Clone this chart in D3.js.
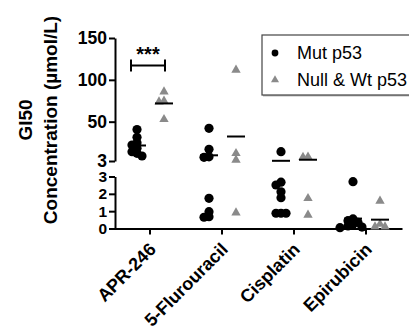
<!DOCTYPE html>
<html>
<head>
<meta charset="utf-8">
<script src="https://cdn.jsdelivr.net/npm/d3@7/dist/d3.min.js"></script>
<style>
  body { margin: 0; background: #fff; }
  text { font-family: "Liberation Sans", Arial, sans-serif; }
  .axis path, .axis line { stroke: #000; stroke-width: 2px; }
  .axis text { font-size: 17.5px; font-weight: bold; fill: #000; }
  .axis.lower text { font-size: 15.5px; }
</style>
</head>
<body>
<div id="chart"></div>
<script>
// drugs on the x axis, two cell-line groups per drug
var drugs = ["APR-246", "5-Flurouracil", "Cisplatin", "Epirubicin"];
var groups = ["Mut p53", "Null & Wt p53"];

// GI50 (umol/L), one array per drug
var mutValues = [
  [40.6, 31.3, 24.9, 22, 18.2, 14.1, 12.2, 9],
  [42, 17, 8, 7.4, 1.74, 0.97, 0.68, 0.65],
  [14.1, 2.67, 2.51, 2.12, 1.78, 0.88, 0.88, 0.88],
  [2.7, 0.55, 0.45, 0.35, 0.25, 0.15, 0.08, 0.05]
];
var nullValues = [
  [85.8, 74.7, 73.9, 52.8],
  [111.8, 12.2, 4.2, 0.91],
  [8, 7.5, 1.74, 0.78],
  [1.59, 0.25, 0.1, 0.1]
];

var upperTicks = [3, 50, 100, 150];
var lowerTicks = [0, 1, 2, 3];
var breakValue = 3;
var sigLabel = "***";
var yTitle = ["GI50", "Concentration (\u00b5mol/L)"];

var svg = d3.select("#chart").append("svg")
    .attr("width", 409)
    .attr("height", 329);

// broken y axis: two linear pieces
var yUpper = d3.scaleLinear().domain([breakValue, 150]).range([161, 38]);
var yLower = d3.scaleLinear().domain([0, breakValue]).range([228.5, 176.5]);
function yv(v) { return v > breakValue ? yUpper(v) : yLower(v); }

var x = d3.scaleBand().domain(drugs).range([114, 402]);
var gx = d3.scalePoint().domain(groups).range([-13, 14]);
var color = d3.scaleOrdinal().domain(groups).range(["#000", "#8a8a8a"]);

// x axis
svg.append("g")
    .attr("class", "axis")
    .attr("transform", "translate(0," + yLower(0) + ")")
    .call(d3.axisBottom(x).tickSize(6).tickSizeOuter(0))
    .selectAll("text")
        .style("text-anchor", "end")
        .style("font-size", "18px")
        .attr("x", 0).attr("y", 0).attr("dy", 0)
        .attr("transform", "translate(7,22) rotate(-45)");

// y axes (upper and lower piece)
svg.append("g")
    .attr("class", "axis upper")
    .attr("transform", "translate(115,0)")
    .call(d3.axisLeft(yUpper).tickValues(upperTicks).tickSize(6).tickSizeOuter(0).tickPadding(2));

svg.append("g")
    .attr("class", "axis lower")
    .attr("transform", "translate(115,0)")
    .call(d3.axisLeft(yLower).tickValues(lowerTicks).tickFormat(d3.format("d"))
        .tickSize(6).tickSizeOuter(0).tickPadding(2));

// y title, two lines
svg.selectAll(".ytitle")
    .data(yTitle)
  .enter().append("text")
    .attr("class", "ytitle")
    .attr("transform", function(d, i) { return "translate(" + (32 + i * 25) + ",120) rotate(-90)"; })
    .style("text-anchor", "middle")
    .style("font-size", "19px")
    .style("font-weight", "bold")
    .text(function(d) { return d; });

// simple swarm so overlapping points spread sideways
function swarm(vals, cx) {
    var placed = [];
    var steps = [0, -5, 5, -9, 9, -13, 13];
    vals.slice().sort(function(a, b) { return b - a; }).forEach(function(v) {
        var y = yv(v);
        for (var k = 0; k < steps.length; k++) {
            var px = cx + steps[k];
            var ok = placed.every(function(p) {
                return Math.hypot(p.x - px, p.y - y) >= 5;
            });
            if (ok || k === steps.length - 1) { placed.push({x: px, y: y, v: v}); break; }
        }
    });
    return placed;
}

var tri = d3.symbol().type(d3.symbolTriangle).size(38);

drugs.forEach(function(drug, i) {
    var sets = [mutValues[i], nullValues[i]];
    sets.forEach(function(vals, g) {
        var grp = groups[g];
        var cx = x(drug) + x.bandwidth() / 2 + gx(grp);
        var pts = swarm(vals, cx);

        if (g === 0) {
            svg.selectAll(null).data(pts).enter().append("circle")
                .attr("cx", function(d) { return d.x; })
                .attr("cy", function(d) { return d.y; })
                .attr("r", 4.6)
                .attr("fill", color(grp));
        } else {
            svg.selectAll(null).data(pts).enter().append("path")
                .attr("d", tri)
                .attr("transform", function(d) { return "translate(" + d.x + "," + d.y + ")"; })
                .attr("fill", color(grp));
        }

        // mean line
        var m = d3.mean(vals);
        svg.append("line")
            .attr("x1", cx - 9).attr("x2", cx + 9)
            .attr("y1", yv(m)).attr("y2", yv(m))
            .attr("stroke", "#000")
            .attr("stroke-width", 2);
    });
});

// significance bracket on APR-246
var bc = x(drugs[0]) + x.bandwidth() / 2 - 2;
var by = yUpper(117);
var br = svg.append("g").attr("stroke", "#000").attr("stroke-width", 2);
br.append("line").attr("x1", bc - 17).attr("x2", bc + 17).attr("y1", by).attr("y2", by);
br.append("line").attr("x1", bc - 17).attr("x2", bc - 17).attr("y1", by - 6).attr("y2", by + 6);
br.append("line").attr("x1", bc + 17).attr("x2", bc + 17).attr("y1", by - 6).attr("y2", by + 6);
svg.append("text")
    .attr("x", bc).attr("y", by - 5)
    .style("text-anchor", "middle")
    .style("font-size", "20px")
    .style("font-weight", "bold")
    .text(sigLabel);

// legend
var lg = svg.append("g").attr("transform", "translate(262,35)");
lg.append("rect")
    .attr("x", 1).attr("y", 1.5).attr("width", 160).attr("height", 60)
    .attr("fill", "#bbb");
lg.append("rect")
    .attr("width", 160).attr("height", 60)
    .attr("fill", "#fff").attr("stroke", "#444").attr("stroke-width", 1.2);
var items = lg.selectAll(".item")
    .data(groups)
  .enter().append("g")
    .attr("class", "item")
    .attr("transform", function(d, i) { return "translate(13," + (18 + i * 27) + ")"; });
items.append("path")
    .attr("d", function(d, i) {
        return i === 0 ? d3.symbol().type(d3.symbolCircle).size(36)() : d3.symbol().type(d3.symbolTriangle).size(28)();
    })
    .attr("fill", function(d) { return color(d); });
items.append("text")
    .attr("x", 22)
    .attr("dy", "0.35em")
    .style("font-size", "18px")
    .text(function(d) { return d; });
</script>
</body>
</html>
